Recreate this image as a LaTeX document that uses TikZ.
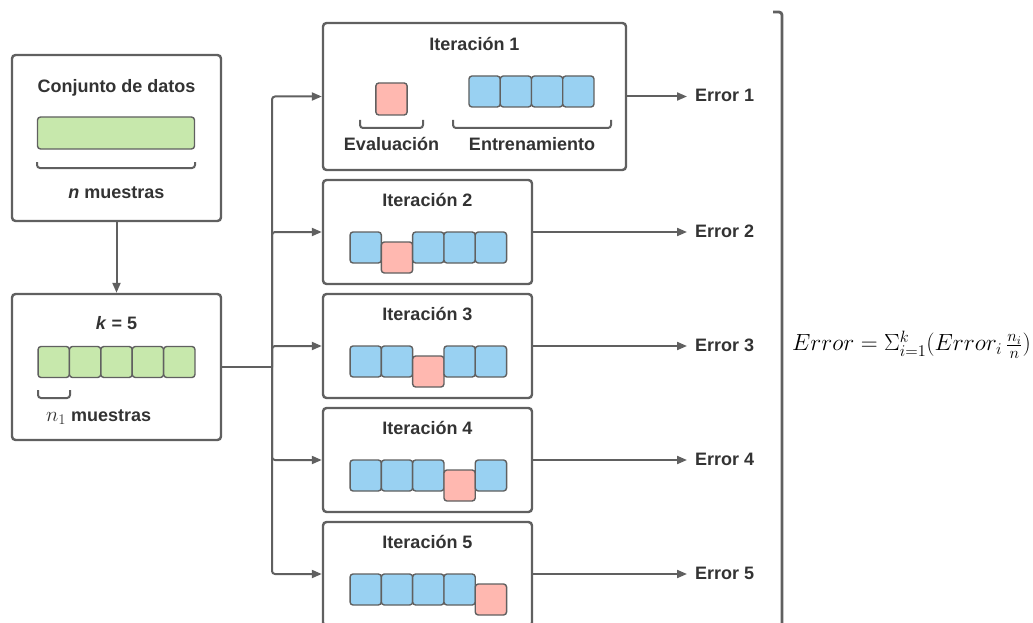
\RequirePackage{fix-cm}
\documentclass[tikz,border=0pt]{standalone}
\usepackage{fontspec}
\setmainfont{Liberation Sans}
\usetikzlibrary{arrows.meta}
\definecolor{linec}{HTML}{606060}
\definecolor{txt}{HTML}{333333}
\definecolor{greenc}{HTML}{C7E8AC}
\definecolor{bluec}{HTML}{99D1F2}
\definecolor{pinkc}{HTML}{FFB8B0}
\tikzset{
  panel/.style={draw=linec, line width=2.4pt, rounded corners=3.5pt, fill=white, inner sep=0pt},
  cell/.style={draw=linec, line width=1.4pt, rounded corners=3pt, minimum width=31.3pt, minimum height=31pt, inner sep=0pt},
  gcell/.style={cell, fill=greenc},
  bcell/.style={cell, fill=bluec},
  pcell/.style={cell, fill=pinkc},
  lbl/.style={font=\bfseries\fontsize{18}{21}\selectfont, text=txt, inner sep=0pt},
  link/.style={draw=linec, line width=2pt, rounded corners=3pt, -{Triangle[length=10pt,width=8pt]}},
  plainlink/.style={draw=linec, line width=2pt},
  bracketline/.style={draw=linec, line width=2pt, rounded corners=3pt}
}
\begin{document}
\begin{tikzpicture}[x=1pt,y=-1pt]
\useasboundingbox (0,0) rectangle (1033,623);

% data set
\node[panel, minimum width=209pt, minimum height=166pt] (data) at (116.5,138) {};
\node[lbl] (datat) at (116.5,88) {Conjunto de datos};
\node[gcell, minimum width=157pt, minimum height=32pt] (bar) at (116,133) {};
\draw[bracketline] (37,162) -- (37,168) -- (195,168) -- (195,162);
\node[lbl] (nm) at (116.5,193) {\textit{n} muestras};

% folds
\node[panel, minimum width=209pt, minimum height=146pt] (kbox) at (116.5,367) {};
\node[lbl] (kt) at (116.5,323) {\textit{k} = 5};
\foreach \j in {0,...,4}
  \node[gcell] (g\j) at ({53.7+31.4*\j},362) {};
\draw[bracketline] (38,390) -- (38,398) -- (70,398) -- (70,390);
\node[lbl, anchor=west] (n1m) at (46,417) {\fontsize{21}{24}\selectfont$n_1$\fontsize{18}{21}\selectfont\ muestras};

\draw[link] (data.south) -- (kbox.north);

% iteration 1
\node[panel, minimum width=303pt, minimum height=147pt] (it1) at (474.5,96.5) {};
\node[lbl] (it1t) at (474.5,44) {Iteración 1};
\node[pcell, minimum height=32pt] (p1) at (391.5,99) {};
\foreach \j in {0,...,3}
  \node[bcell, minimum width=31.25pt] (b1\j) at ({484.6+31.25*\j},91.5) {};
\draw[bracketline] (360,120) -- (360,128) -- (423,128) -- (423,120);
\draw[bracketline] (453,120) -- (453,128) -- (611,128) -- (611,120);
\node[lbl] (ev) at (391.5,144) {Evaluación};
\node[lbl] (tr) at (532,144) {Entrenamiento};

% iterations 2 to 5: fold k is held out
\foreach \k/\cy in {2/232,3/346,4/460,5/574} {
  \node[panel, minimum width=209pt, minimum height=104pt] (it\k) at (427.5,\cy) {};
  \node[lbl] (it\k t) at (427.5,\cy-32) {Iteración \k};
  \foreach \j in {1,...,5} {
    \ifnum\j=\k\relax
      \node[pcell] (c\k\j) at ({365.7+31.3*(\j-1)},\cy+25.5) {};
    \else
      \node[bcell] (c\k\j) at ({365.7+31.3*(\j-1)},\cy+15.5) {};
    \fi
  }
}

% split towards the iterations
\coordinate (split) at (272,367);
\draw[plainlink] (kbox.east) -- (split);
\foreach \k in {1,...,5}
  \draw[link] (split) |- (it\k.west);

% errors
\foreach \k/\cy in {1/96.5,2/232,3/346,4/460,5/574} {
  \node[lbl, anchor=west] (e\k) at (695,\cy-1) {Error \k};
  \draw[link, shorten >=8pt] (it\k.east) -- (it\k.east -| e\k.west);
}

% closing bracket and formula
\draw[draw=linec, line width=2.8pt, rounded corners=3pt] (773,12) -- (782,12) -- (782,640);
\node[text=black, inner sep=0pt] (formula) at (911.5,345)
  {\fontsize{23.4}{28}\selectfont$Error = \Sigma_{i=1}^{k}(Error_i\,\frac{n_i}{n})$};
\end{tikzpicture}
\end{document}
